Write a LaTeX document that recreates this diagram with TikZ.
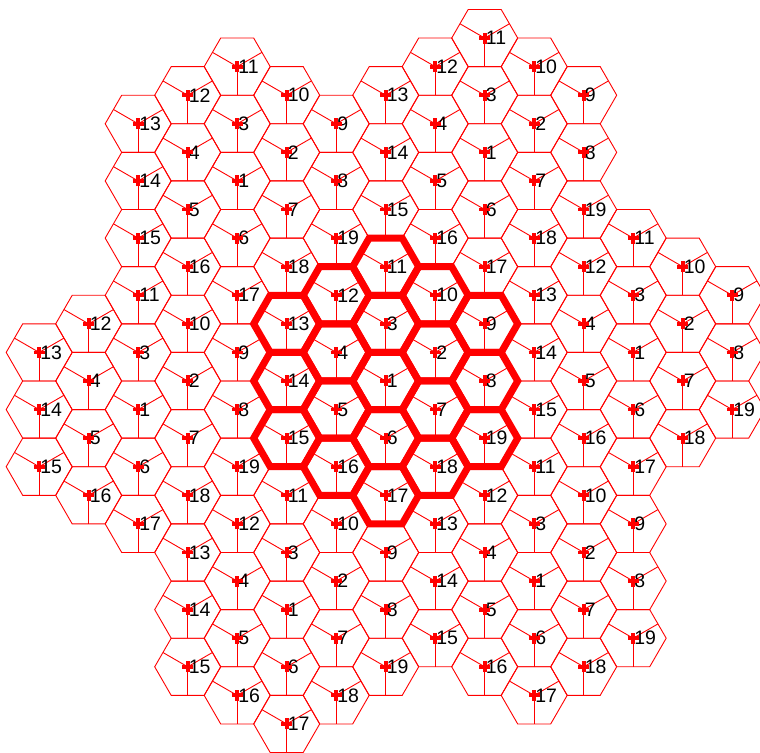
\documentclass[tikz,border=0pt]{standalone}
\usepackage{fontspec}
\setmainfont{Liberation Sans}
\usetikzlibrary{calc}

\begin{document}
\begin{tikzpicture}[x=1pt, y=1pt]
    \def\R{33}          % hexagon circumradius
    \def\Ap{28.58}      % hexagon apothem (sqrt(3)/2 * R)

    % frame of the plot (cells on the right and bottom are cut off)
    \useasboundingbox (-385.7,-371) rectangle (374.3,381);
    \clip (-385.7,-371) rectangle (374.3,381);

    % Seven clusters of 19 cells, each cell split in three sectors
    \foreach \cq/\cr in {0/0, 2/3, -3/5, -5/2, -2/-3, 3/-5, 5/-2} {
        \foreach \n/\qq/\rr in {1/0/0, 2/1/0, 3/0/1, 4/-1/1, 5/-1/0, 6/0/-1, 7/1/-1,
                               8/2/-1, 9/2/0, 10/1/1, 11/0/2, 12/-1/2, 13/-2/2, 14/-2/1,
                               15/-2/0, 16/-1/-1, 17/0/-2, 18/1/-2, 19/2/-2} {
            \pgfmathsetmacro{\cx}{1.5*\R*(\cq+\qq)}
            \pgfmathsetmacro{\cy}{sqrt(3)*\R*((\cr+\rr)+0.5*(\cq+\qq))}
            % cell outline
            \draw[red, line width=0.9pt] (\cx,\cy) +(0:\R) -- +(60:\R) -- +(120:\R)
                -- +(180:\R) -- +(240:\R) -- +(300:\R) -- cycle;
            % sector borders
            \draw[red, line width=0.9pt] (\cx,\cy) -- +(270:\Ap);
            \draw[red, line width=0.9pt] (\cx,\cy) -- +(30:\Ap);
            \draw[red, line width=0.9pt] (\cx,\cy) -- +(150:\Ap);
            % base station and cell number
            \node[anchor=west, inner sep=0pt, font=\fontsize{19.5}{19.5}\selectfont]
                at (\cx+1,\cy) {\n};
            \draw[red, line width=3.8pt] (\cx-5.5,\cy) -- (\cx+5.5,\cy);
            \draw[red, line width=3.8pt] (\cx,\cy-5.5) -- (\cx,\cy+5.5);
        }
    }

    % Central cluster highlighted
    \foreach \qq/\rr in {0/0, 1/0, 0/1, -1/1, -1/0, 0/-1, 1/-1, 2/-1, 2/0, 1/1,
                         0/2, -1/2, -2/2, -2/1, -2/0, -1/-1, 0/-2, 1/-2, 2/-2} {
        \pgfmathsetmacro{\cx}{1.5*\R*\qq}
        \pgfmathsetmacro{\cy}{sqrt(3)*\R*(\rr+0.5*\qq)}
        \draw[red, line width=7pt] (\cx,\cy) +(0:\R) -- +(60:\R) -- +(120:\R)
            -- +(180:\R) -- +(240:\R) -- +(300:\R) -- cycle;
    }
\end{tikzpicture}
\end{document}
